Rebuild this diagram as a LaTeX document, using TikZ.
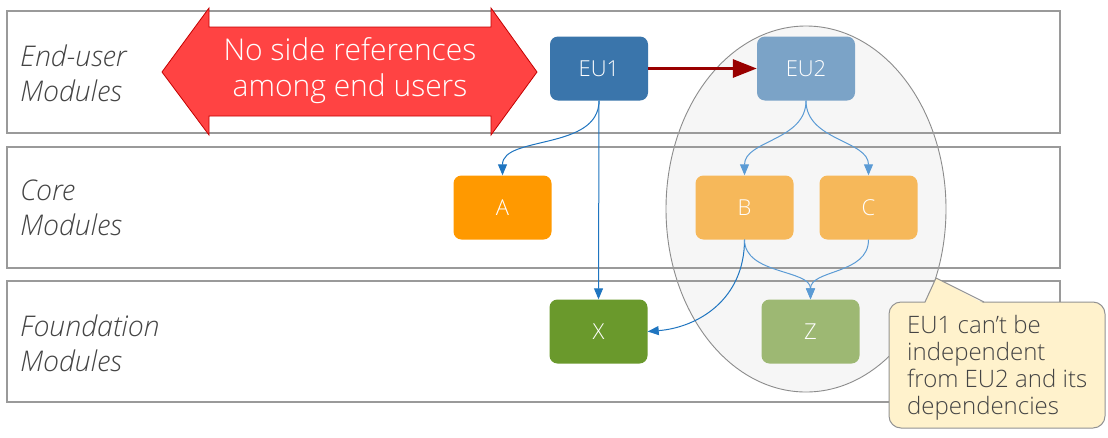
\documentclass[tikz,border=0pt]{standalone}
\usepackage{fontspec}
\setmainfont{Open Sans}[UprightFont=* Light, ItalicFont=* Light Italic]
\usetikzlibrary{arrows.meta}
\definecolor{bandline}{HTML}{9A9A9A}
\definecolor{labeltxt}{HTML}{444444}
\definecolor{euone}{HTML}{3A75AB}
\definecolor{eutwo}{HTML}{7BA3C7}
\definecolor{orA}{HTML}{FF9900}
\definecolor{orB}{HTML}{F6B85A}
\definecolor{grX}{HTML}{6A992C}
\definecolor{grZ}{HTML}{9DB873}
\definecolor{redfill}{HTML}{FF4343}
\definecolor{redline}{HTML}{C40000}
\definecolor{darkred}{HTML}{990000}
\definecolor{blueA}{HTML}{1F75C0}
\definecolor{blueB}{HTML}{5B9BD5}
\definecolor{callfill}{HTML}{FFF2CC}
\definecolor{ellfill}{HTML}{F6F6F6}
\begin{document}
\begin{tikzpicture}[x=1pt,y=-1pt,
  band/.style={draw=bandline,line width=1.3pt},
  bandlabel/.style={anchor=west,align=left,font=\fontsize{28.5}{35}\selectfont\itshape,text=labeltxt,inner sep=0pt},
  module/.style={rounded corners=8pt,minimum width=98pt,minimum height=64pt,text=white,font=\fontsize{22}{26}\selectfont,inner sep=0pt},
  dep/.style={draw=blueA,line width=1pt,-{Triangle[length=11pt,width=9pt]}},
  deplight/.style={draw=blueB,line width=1pt,-{Triangle[length=11pt,width=9pt]}}
]
\useasboundingbox (0,0) rectangle (1108,437);
\fill[white] (0,0) rectangle (1108,437);
% ellipse behind bands
\draw[fill=ellfill,draw=gray!90,line width=0.9pt] (806,209) ellipse [x radius=140, y radius=183];
% bands
\draw[band] (7,11) rectangle (1060,133);
\draw[band] (7,147) rectangle (1060,268);
\draw[band] (7,281) rectangle (1060,402);
\node[bandlabel] (l1) at (20,73) {End-user\\Modules};
\node[bandlabel] (l2) at (20,208) {Core\\Modules};
\node[bandlabel] (l3) at (20,343) {Foundation\\Modules};
% red double arrow
\draw[fill=redfill,draw=redline,line width=0.8pt,line join=miter]
  (162,72) -- (209,8) -- (209,27) -- (491,27) -- (491,8) -- (537,72)
  -- (491,135) -- (491,116) -- (209,116) -- (209,135) -- cycle;
\node[align=center,text=white,font=\fontsize{30}{36}\selectfont] (nosides) at (350,71) {No side references\\among end users};
% modules
\node[module,fill=euone] (eu1) at (599,68.5) {EU1};
\node[module,fill=eutwo] (eu2) at (806,68.5) {EU2};
\node[module,fill=orA] (a) at (502.5,207.5) {A};
\node[module,fill=orB] (b) at (744.5,207.5) {B};
\node[module,fill=orB] (c) at (868.5,207.5) {C};
\node[module,fill=grX] (x) at (598.5,331.5) {X};
\node[module,fill=grZ] (z) at (810.5,331.5) {Z};
% arrows
\draw[draw=darkred,line width=3pt,-{Triangle[length=24pt,width=18pt]}] (eu1.east) -- (eu2.west);
\draw[dep] (eu1.south) .. controls +(0,50) and +(0,-40) .. (a.north);
\draw[dep] (eu1.south) -- (x.north);
\draw[dep] (b.south) .. controls +(0,60) and +(50,-4) .. (x.east);
\draw[deplight] (eu2.south) .. controls +(0,40) and +(0,-35) .. (b.north);
\draw[deplight] (eu2.south) .. controls +(0,40) and +(0,-35) .. (c.north);
\draw[deplight] (b.south) .. controls +(0,35) and +(0,-30) .. (z.north);
\draw[deplight] (c.south) .. controls +(0,35) and +(0,-30) .. (z.north);
% callout
\node[draw=gray!85,line width=1pt,fill=callfill,rounded corners=12pt,minimum width=216pt,minimum height=126pt,inner sep=0pt] (note) at (997,365) {};
\fill[callfill] (925,303.5) -- (936,278) -- (984,303.5) -- cycle;
\draw[draw=gray!85,line width=1pt,line join=round] (925,302) -- (936,278) -- (984,302);
\node[align=left,text=labeltxt,font=\fontsize{24}{27}\selectfont,inner sep=0pt,anchor=west] (notetext) at (907,368) {EU1 can’t be\\independent\\from EU2 and its\\dependencies};
\end{tikzpicture}
\end{document}
